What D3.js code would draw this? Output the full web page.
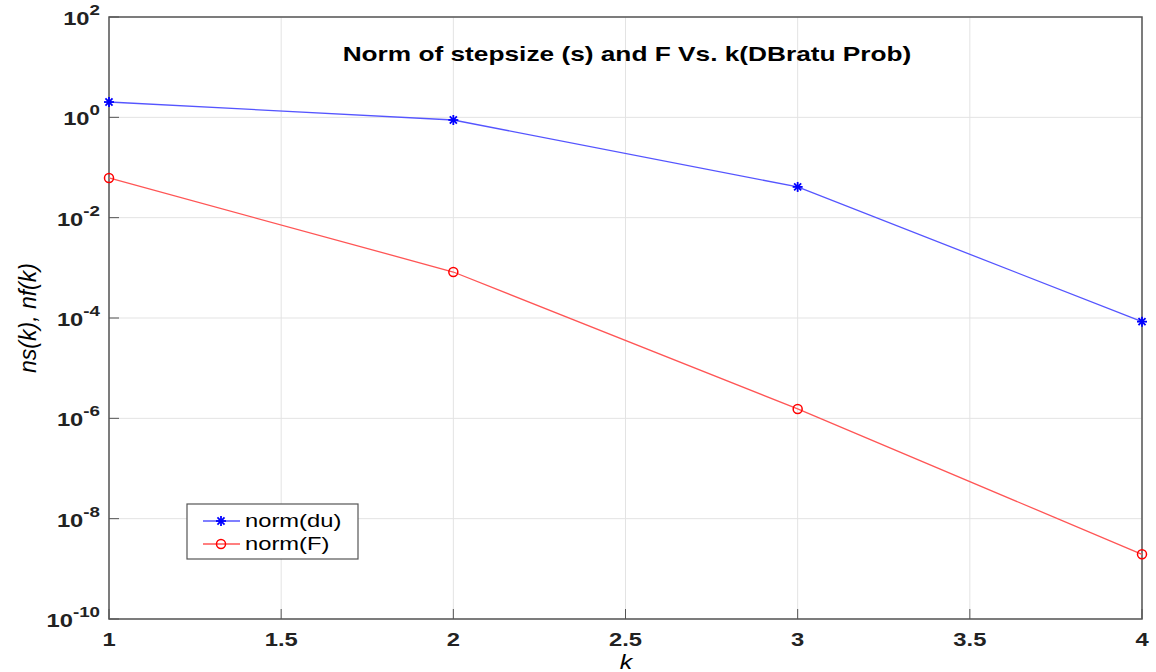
<!DOCTYPE html>
<html>
<head>
<meta charset="utf-8">
<script src="https://cdn.jsdelivr.net/npm/d3@7"></script>
<style>
body { margin: 0; background: #fff; }
text { font-family: "Liberation Sans", Arial, sans-serif; }
</style>
</head>
<body>
<svg width="1156" height="672"></svg>
<script>
var kValues = [1, 2, 3, 4];
var normDu = [2.02, 0.885, 0.041, 8.45e-5];
var normF = [0.0618, 8.26e-4, 1.54e-6, 1.95e-9];
var xTicks = [1, 1.5, 2, 2.5, 3, 3.5, 4];
var yExponents = [2, 0, -2, -4, -6, -8, -10];

var svg = d3.select("svg");
var plotL = 109, plotT = 17, plotR = 1142, plotB = 619;
var sx = 1.25; // the reference text is stretched horizontally

var xScale = d3.scaleLinear().domain([1, 4]).range([plotL, plotR]);
var yScale = d3.scaleLog().domain([1e-10, 1e2]).range([plotB, plotT]);

var g = svg.append("g");

// grid
g.selectAll(".vgrid")
.data(xTicks)
.enter()
.append("line")
.attr("x1", (d)=>xScale(d))
.attr("x2", (d)=>xScale(d))
.attr("y1", plotT)
.attr("y2", plotB)
.attr("stroke", "#e3e3e3")
.attr("stroke-width", 1);

g.selectAll(".hgrid")
.data(yExponents)
.enter()
.append("line")
.attr("x1", plotL)
.attr("x2", plotR)
.attr("y1", (d)=>yScale(Math.pow(10, d)))
.attr("y2", (d)=>yScale(Math.pow(10, d)))
.attr("stroke", "#e3e3e3")
.attr("stroke-width", 1);

// ticks inward
g.selectAll(".ytick")
.data(yExponents)
.enter()
.append("line")
.attr("x1", plotL)
.attr("x2", plotL + 10)
.attr("y1", (d)=>yScale(Math.pow(10, d)))
.attr("y2", (d)=>yScale(Math.pow(10, d)))
.attr("stroke", "#555");

g.selectAll(".xtick")
.data(xTicks)
.enter()
.append("line")
.attr("x1", (d)=>xScale(d))
.attr("x2", (d)=>xScale(d))
.attr("y1", plotB)
.attr("y2", plotB - 10)
.attr("stroke", "#555");

// box
g.append("rect")
.attr("x", plotL)
.attr("y", plotT)
.attr("width", plotR - plotL)
.attr("height", plotB - plotT)
.attr("fill", "none")
.attr("stroke", "#555")
.attr("stroke-width", 1.5);

// y tick labels
var yl = g.selectAll(".ylab")
.data(yExponents)
.enter()
.append("text")
.attr("transform", (d)=>"translate(" + (plotL - 9) + "," + (yScale(Math.pow(10, d)) + 8) + ") scale(" + sx + ",1)")
.attr("text-anchor", "end")
.attr("font-weight", "bold")
.attr("font-size", 19)
.attr("fill", "#222");
yl.append("tspan").text("10");
yl.append("tspan")
.attr("dy", -10)
.attr("font-size", 15)
.text((d)=>d);

// x tick labels
g.selectAll(".xlab")
.data(xTicks)
.enter()
.append("text")
.attr("transform", (d)=>"translate(" + xScale(d) + "," + (plotB + 27) + ") scale(" + sx + ",1)")
.attr("text-anchor", "middle")
.attr("font-weight", "bold")
.attr("font-size", 19)
.attr("fill", "#222")
.text((d)=>d);

// lines
var line = d3.line()
.x((d)=>xScale(d[0]))
.y((d)=>yScale(d[1]));

var duData = kValues.map((k, i)=>[k, normDu[i]]);
var fData = kValues.map((k, i)=>[k, normF[i]]);

g.append("path")
.datum(duData)
.attr("d", line)
.attr("fill", "none")
.attr("stroke", "#5555ff")
.attr("stroke-width", 1.3);

g.append("path")
.datum(fData)
.attr("d", line)
.attr("fill", "none")
.attr("stroke", "#ff5555")
.attr("stroke-width", 1.3);

function star(sel, cx, cy, r) {
  [0, 45, 90, 135].forEach(function(a) {
    var rad = a * Math.PI / 180;
    sel.append("line")
    .attr("x1", cx - r * Math.cos(rad))
    .attr("y1", cy - r * Math.sin(rad))
    .attr("x2", cx + r * Math.cos(rad))
    .attr("y2", cy + r * Math.sin(rad))
    .attr("stroke", "#0000ff")
    .attr("stroke-width", 1.8);
  });
}

duData.forEach(function(d) {
  star(g, xScale(d[0]), yScale(d[1]), 5);
});

g.selectAll(".fmark")
.data(fData)
.enter()
.append("circle")
.attr("cx", (d)=>xScale(d[0]))
.attr("cy", (d)=>yScale(d[1]))
.attr("r", 4.5)
.attr("fill", "none")
.attr("stroke", "#ff0000")
.attr("stroke-width", 1.5);

// title
svg.append("text")
.attr("transform", "translate(627,61) scale(" + sx + ",1)")
.attr("text-anchor", "middle")
.attr("font-weight", "bold")
.attr("font-size", 21)
.attr("fill", "#000")
.text("Norm of stepsize (s) and F Vs. k(DBratu Prob)");

// axis labels
svg.append("text")
.attr("transform", "translate(626,669) scale(" + sx + ",1)")
.attr("text-anchor", "middle")
.attr("font-style", "italic")
.attr("font-family", "'Liberation Serif', serif")
.attr("font-size", 20)
.text("k");

svg.append("text")
.attr("transform", "translate(36,318) rotate(-90) scale(1.15,1.2)")
.attr("text-anchor", "middle")
.attr("font-style", "italic")
.attr("font-family", "'Liberation Serif', serif")
.attr("font-size", 20)
.text("ns(k), nf(k)");

// legend
var lg = svg.append("g");
lg.append("rect")
.attr("x", 187)
.attr("y", 504)
.attr("width", 171)
.attr("height", 55)
.attr("fill", "#fff")
.attr("stroke", "#555")
.attr("stroke-width", 1.2);

lg.append("line")
.attr("x1", 203).attr("x2", 240)
.attr("y1", 521).attr("y2", 521)
.attr("stroke", "#5555ff").attr("stroke-width", 1.3);
star(lg, 221, 521, 5);
lg.append("text")
.attr("transform", "translate(245,527) scale(" + sx + ",1)")
.attr("font-size", 19)
.text("norm(du)");

lg.append("line")
.attr("x1", 203).attr("x2", 240)
.attr("y1", 544).attr("y2", 544)
.attr("stroke", "#ff5555").attr("stroke-width", 1.3);
lg.append("circle")
.attr("cx", 221).attr("cy", 544).attr("r", 4.5)
.attr("fill", "none").attr("stroke", "#ff0000").attr("stroke-width", 1.5);
lg.append("text")
.attr("transform", "translate(245,550) scale(" + sx + ",1)")
.attr("font-size", 19)
.text("norm(F)");
</script>
</body>
</html>
